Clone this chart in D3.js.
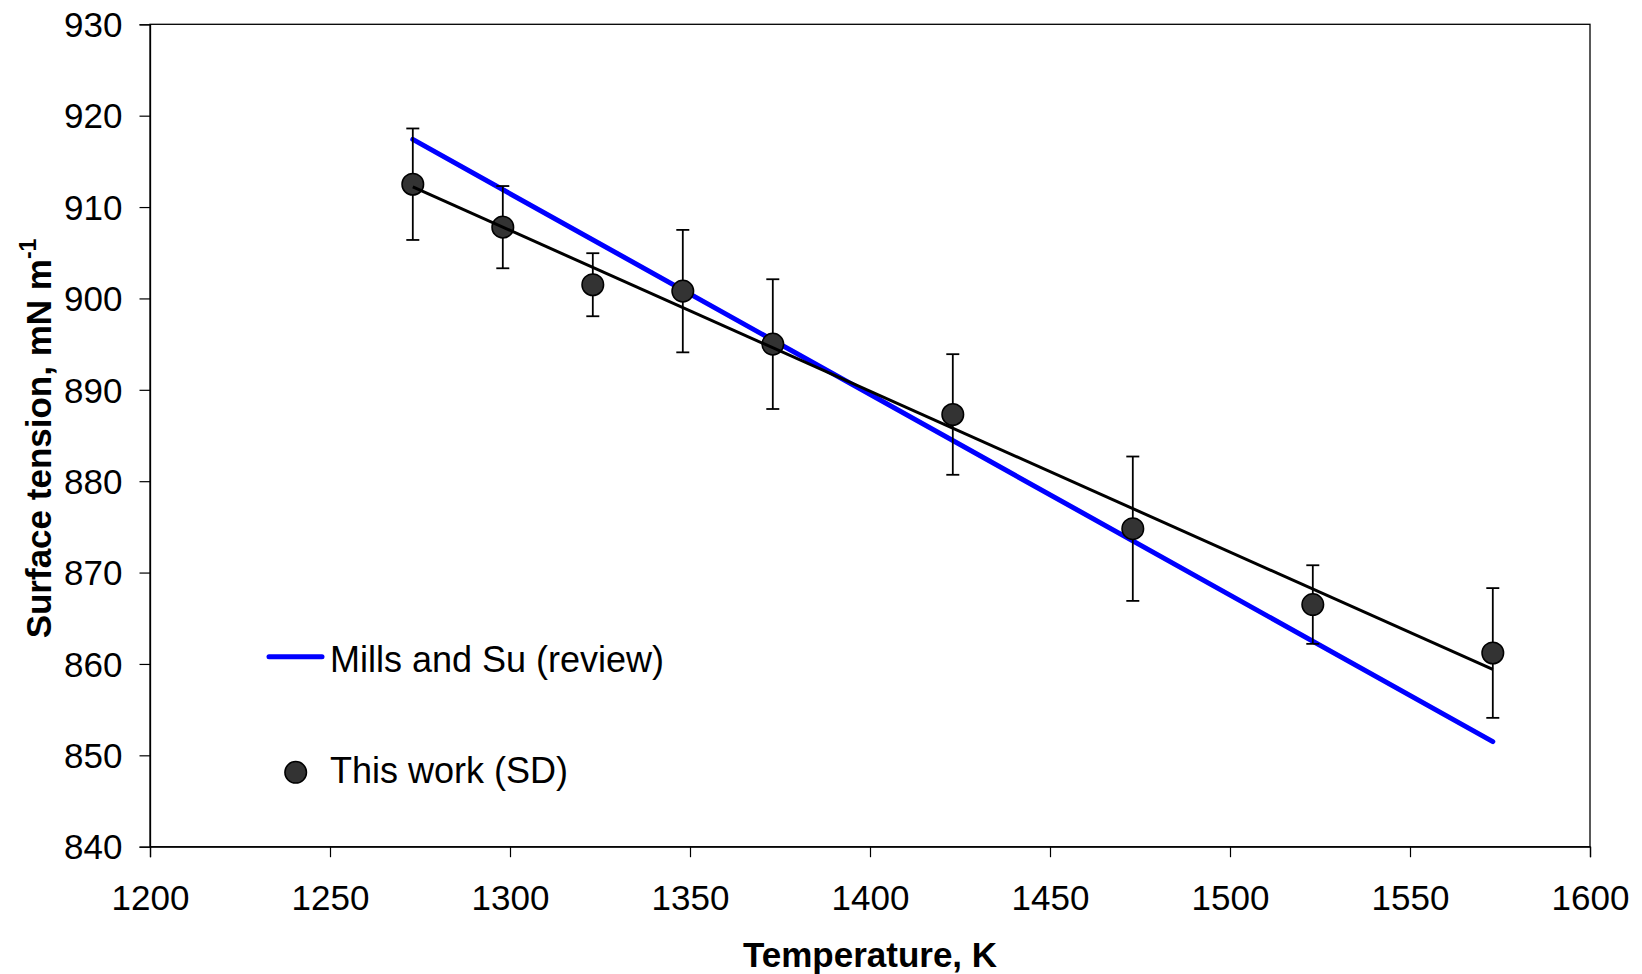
<!DOCTYPE html>
<html>
<head>
<meta charset="utf-8">
<script src="https://cdn.jsdelivr.net/npm/d3@7"></script>
<style>
  html, body { margin: 0; padding: 0; background: #fff; }
  svg { display: block; font-family: "Liberation Sans", Arial, sans-serif; }
</style>
</head>
<body>
<svg id="chart" width="1642" height="974"></svg>
<script>
// Measured surface tension with standard deviation
const temperatures = [1273, 1298, 1323, 1348, 1373, 1423, 1473, 1523, 1573];
const tension = [912.5, 907.8, 901.5, 900.8, 895.0, 887.3, 874.8, 866.5, 861.2];
const tensionSD = [6.1, 4.5, 3.45, 6.7, 7.1, 6.6, 7.9, 4.3, 7.1];

// Linear fit of the measurements (end points)
const fitTemps = [1273, 1573];
const fitValues = [912.2, 859.4];

// Mills and Su review line (end points)
const millsTemps = [1273, 1573];
const millsValues = [917.4, 851.5];

// Axis ticks
const xTicks = [1200, 1250, 1300, 1350, 1400, 1450, 1500, 1550, 1600];
const yTicks = [840, 850, 860, 870, 880, 890, 900, 910, 920, 930];

const legendLabels = ["Mills and Su (review)", "This work (SD)"];

const svg = d3.select("#chart");
const plot = { left: 150, right: 1590, top: 24.3, bottom: 846.7 };

const x = d3.scaleLinear().domain([1200, 1600]).range([plot.left, plot.right]);
const y = d3.scaleLinear().domain([840, 930]).range([plot.bottom, plot.top]);

// Frame
svg.append("rect")
  .attr("x", plot.left).attr("y", plot.top)
  .attr("width", plot.right - plot.left).attr("height", plot.bottom - plot.top)
  .attr("fill", "none").attr("stroke", "#000").attr("stroke-width", 1.3);

// Axes
const xAxis = svg.append("g")
  .attr("transform", `translate(0,${plot.bottom})`)
  .call(d3.axisBottom(x).tickValues(xTicks).tickSize(10.5).tickPadding(28).tickFormat(d3.format("d")));
const yAxis = svg.append("g")
  .attr("transform", `translate(${plot.left},0)`)
  .call(d3.axisLeft(y).tickValues(yTicks).tickSize(10.5).tickPadding(17).tickFormat(d3.format("d")));

[xAxis, yAxis].forEach(g => {
  g.select(".domain").attr("stroke", "#000").attr("stroke-width", 1.3);
  g.selectAll(".tick line").attr("stroke", "#000").attr("stroke-width", 1.2);
  g.selectAll(".tick text")
    .attr("fill", "#000")
    .style("font-family", '"Liberation Sans", Arial, sans-serif')
    .style("font-size", "35px");
});
xAxis.selectAll(".tick text").attr("dy", "0.71em");
yAxis.selectAll(".tick text").attr("dy", "0.35em");

// Axis titles
svg.append("text")
  .attr("x", (plot.left + plot.right) / 2)
  .attr("y", 967)
  .attr("text-anchor", "middle")
  .style("font-size", "35px").style("font-weight", "bold")
  .text("Temperature, K");

const yTitle = svg.append("text")
  .attr("transform", `translate(51,${(plot.top + plot.bottom) / 2 + 3}) rotate(-90)`)
  .attr("text-anchor", "middle")
  .style("font-size", "35px").style("font-weight", "bold");
yTitle.append("tspan").text("Surface tension, mN m");
yTitle.append("tspan").attr("dy", -15).style("font-size", "23px").text("-1");

// Mills and Su line
svg.append("path")
  .datum(millsTemps.map((t, i) => [t, millsValues[i]]))
  .attr("d", d3.line().x(d => x(d[0])).y(d => y(d[1])))
  .attr("fill", "none").attr("stroke", "#0000ff").attr("stroke-width", 5)
  .attr("stroke-linecap", "round");

// Error bars
const pts = temperatures.map((t, i) => ({ t, v: tension[i], sd: tensionSD[i] }));
const eb = svg.append("g").attr("stroke", "#000").attr("stroke-width", 1.8);
eb.selectAll("line.v").data(pts).join("line").attr("class", "v")
  .attr("x1", d => x(d.t)).attr("x2", d => x(d.t))
  .attr("y1", d => y(d.v + d.sd)).attr("y2", d => y(d.v - d.sd));
eb.selectAll("line.top").data(pts).join("line").attr("class", "top")
  .attr("x1", d => x(d.t) - 6.5).attr("x2", d => x(d.t) + 6.5)
  .attr("y1", d => y(d.v + d.sd)).attr("y2", d => y(d.v + d.sd));
eb.selectAll("line.bot").data(pts).join("line").attr("class", "bot")
  .attr("x1", d => x(d.t) - 6.5).attr("x2", d => x(d.t) + 6.5)
  .attr("y1", d => y(d.v - d.sd)).attr("y2", d => y(d.v - d.sd));

// Markers
svg.append("g").selectAll("circle").data(pts).join("circle")
  .attr("cx", d => x(d.t)).attr("cy", d => y(d.v)).attr("r", 10.8)
  .attr("fill", "#333333").attr("stroke", "#000").attr("stroke-width", 1.5);

// Linear fit line
svg.append("path")
  .datum(fitTemps.map((t, i) => [t, fitValues[i]]))
  .attr("d", d3.line().x(d => x(d[0])).y(d => y(d[1])))
  .attr("fill", "none").attr("stroke", "#000").attr("stroke-width", 3);

// Legend
const lg = svg.append("g");
lg.append("line")
  .attr("x1", 269).attr("x2", 322).attr("y1", 656.7).attr("y2", 656.7)
  .attr("stroke", "#0000ff").attr("stroke-width", 5).attr("stroke-linecap", "round");
lg.append("text").attr("x", 330).attr("y", 671.5)
  .style("font-size", "36px").text(legendLabels[0]);
lg.append("circle").attr("cx", 295.7).attr("cy", 772.3).attr("r", 10.8)
  .attr("fill", "#333333").attr("stroke", "#000").attr("stroke-width", 1.5);
lg.append("text").attr("x", 330).attr("y", 783.3)
  .style("font-size", "36px").text(legendLabels[1]);
</script>
</body>
</html>
